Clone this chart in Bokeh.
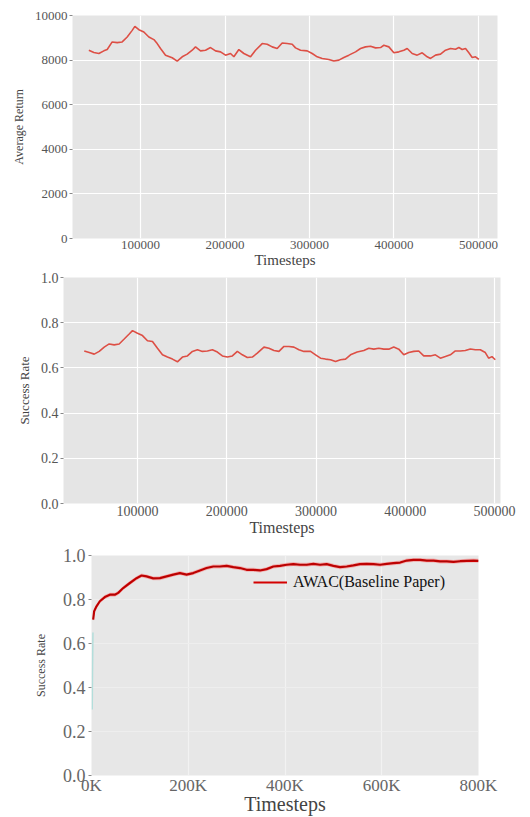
from bokeh.plotting import figure
from bokeh.models import Range1d, FixedTicker, Legend, LegendItem
from bokeh.embed import file_html
from bokeh.resources import INLINE

# ---------------- data ----------------
ret_x = [38860, 44780, 50700, 56620, 60560, 66480, 72400, 78320, 84240, 90150,
         93310, 98040, 103960, 109880, 115800, 119740, 123680, 129600, 137490, 143410,
         149330, 155240, 161160, 165110, 171020, 176940, 182860, 188780, 194690, 200610,
         206530, 210470, 216390, 222310, 230200, 236120, 244010, 249920, 255840, 261760,
         267680, 273600, 279510, 283460, 289380, 297270, 303180, 309100, 315020, 322910,
         328820, 334740, 340660, 346580, 354470, 360380, 366300, 372220, 378140, 384060,
         388000, 393920, 399840, 405760, 411670, 415620, 421540, 427460, 433370, 439290,
         443230, 449150, 455070, 460980, 466900, 472820, 476770, 480710, 484660, 488600,
         492550, 496490, 500430]
ret_y = [8444, 8341, 8296, 8415, 8474, 8815, 8785, 8815, 9037, 9333,
         9511, 9363, 9259, 9037, 8919, 8741, 8519, 8222, 8104, 7956,
         8148, 8267, 8444, 8593, 8415, 8444, 8563, 8415, 8370, 8222,
         8296, 8148, 8474, 8296, 8148, 8444, 8741, 8711, 8593, 8519,
         8770, 8741, 8711, 8548, 8444, 8415, 8296, 8148, 8074, 8030,
         7956, 8000, 8119, 8222, 8370, 8519, 8593, 8622, 8548, 8563,
         8667, 8593, 8326, 8370, 8444, 8519, 8296, 8222, 8326, 8148,
         8074, 8222, 8267, 8444, 8519, 8489, 8563, 8474, 8519, 8326,
         8119, 8148, 8030]

sr_x = [40340, 45930, 51520, 57120, 62710, 68300, 73900, 79490, 85090, 90680,
        94410, 100000, 105590, 111190, 116780, 122380, 127970, 133560, 139160, 144750,
        150340, 155940, 161530, 167120, 172720, 178310, 183900, 189500, 195090, 200680,
        206280, 211870, 217460, 223060, 228650, 234240, 241700, 247290, 252890, 258480,
        264070, 269670, 275260, 280850, 286450, 293910, 299500, 305090, 310690, 316280,
        321870, 327470, 333060, 338650, 346110, 353570, 359160, 364750, 370350, 375940,
        381530, 387130, 392720, 398310, 403910, 409500, 415090, 420690, 428150, 433740,
        439330, 444930, 450520, 456110, 461710, 467300, 472890, 478490, 484080, 489670,
        493400, 497130, 500860]
sr_y = [0.675, 0.668, 0.661, 0.673, 0.692, 0.706, 0.702, 0.706, 0.728, 0.750,
        0.765, 0.753, 0.743, 0.720, 0.717, 0.687, 0.658, 0.648, 0.639, 0.627,
        0.648, 0.653, 0.673, 0.680, 0.673, 0.675, 0.680, 0.670, 0.653, 0.648,
        0.653, 0.673, 0.658, 0.646, 0.648, 0.665, 0.692, 0.687, 0.677, 0.673,
        0.695, 0.695, 0.692, 0.680, 0.673, 0.673, 0.658, 0.643, 0.639, 0.636,
        0.628, 0.636, 0.639, 0.658, 0.670, 0.677, 0.687, 0.683, 0.687, 0.683,
        0.683, 0.692, 0.683, 0.658, 0.668, 0.673, 0.675, 0.653, 0.653, 0.658,
        0.643, 0.650, 0.658, 0.675, 0.675, 0.677, 0.684, 0.680, 0.680, 0.668,
        0.643, 0.650, 0.636]

awac_x = [3450, 5520, 10350, 17240, 27590, 37930, 48280, 55180, 65520, 79320,
          93110, 103450, 113800, 127590, 141390, 155180, 168970, 182770, 196560, 210360,
          224150, 237940, 251740, 265530, 279330, 293120, 306920, 320710, 334500, 348300,
          362090, 375890, 389680, 403470, 417270, 431060, 444860, 458650, 472440, 486240,
          500030, 513830, 527620, 541420, 555210, 569000, 582800, 596590, 610390, 624180,
          637980, 651770, 665560, 679360, 693150, 706950, 720740, 734530, 748330, 762120,
          775920, 789710, 800060]
awac_y = [0.709, 0.747, 0.769, 0.792, 0.811, 0.822, 0.822, 0.830, 0.852, 0.875,
          0.897, 0.909, 0.905, 0.896, 0.897, 0.905, 0.913, 0.920, 0.913, 0.920,
          0.932, 0.943, 0.950, 0.950, 0.953, 0.947, 0.943, 0.935, 0.935, 0.932,
          0.938, 0.950, 0.953, 0.958, 0.961, 0.958, 0.958, 0.962, 0.958, 0.961,
          0.953, 0.947, 0.950, 0.955, 0.961, 0.962, 0.961, 0.958, 0.962, 0.965,
          0.968, 0.977, 0.980, 0.980, 0.977, 0.977, 0.973, 0.973, 0.971, 0.974,
          0.976, 0.977, 0.976]
awac_spread = 0.009

faint_x = [1500, 2000, 2500, 3000]
faint_y = [0.30, 0.45, 0.55, 0.65]

ret_ticks = [0, 2000, 4000, 6000, 8000, 10000]
sr_ticks = [0.0, 0.2, 0.4, 0.6, 0.8, 1.0]
step_ticks = [100000, 200000, 300000, 400000, 500000]
awac_ticks = [0, 200000, 400000, 600000, 800000]
awac_tick_labels = ["0K", "200K", "400K", "600K", "800K"]

SERIF = "Liberation Serif"
W = 530


def style(p, tick_size, xlab_size, ylab_size, bg, text_col="#555555"):
    p.background_fill_color = bg
    p.border_fill_color = "white"
    p.outline_line_color = None
    for ax in (p.xaxis[0], p.yaxis[0]):
        ax.axis_line_color = None
        ax.major_label_text_font = SERIF
        ax.major_label_text_color = text_col
        ax.major_label_text_font_size = tick_size
        ax.axis_label_text_font = SERIF
        ax.axis_label_text_font_style = "normal"
        ax.axis_label_text_color = "#444444"
        ax.minor_tick_line_color = None
        ax.major_tick_in = 0
    p.xaxis[0].axis_label_text_font_size = xlab_size
    p.yaxis[0].axis_label_text_font_size = ylab_size
    p.xaxis[0].major_tick_out = 0
    p.yaxis[0].major_tick_out = 3
    p.yaxis[0].major_tick_line_color = "#888888"
    p.xaxis[0].major_label_standoff = 2
    p.xaxis[0].axis_label_standoff = 0
    p.yaxis[0].major_label_standoff = 2
    p.yaxis[0].axis_label_standoff = 6
    p.xgrid.grid_line_color = "white"
    p.ygrid.grid_line_color = "white"
    p.xgrid.grid_line_width = 1.2
    p.ygrid.grid_line_width = 1.2
    p.xgrid.minor_grid_line_color = None
    p.ygrid.minor_grid_line_color = None


# ---------- figure 1 ----------
p1 = figure(width=W, height=270, output_backend="svg", toolbar_location=None,
            x_range=Range1d(19500, 522500), y_range=Range1d(0, 10000),
            min_border_left=72, min_border_right=33, min_border_top=15, min_border_bottom=30)
p1.line(ret_x, ret_y, line_color="#dd4f45", line_width=1.6)
p1.xaxis.axis_label = "Timesteps"
p1.yaxis.axis_label = "Average Return"
p1.xaxis.ticker = FixedTicker(ticks=step_ticks)
p1.xaxis.major_label_overrides = {t: str(t) for t in step_ticks}
p1.yaxis.ticker = FixedTicker(ticks=ret_ticks)
p1.yaxis.major_label_overrides = {t: str(t) for t in ret_ticks}
style(p1, "13px", "15px", "12px", "#e5e5e5")

# ---------- figure 2 ----------
p2 = figure(width=W, height=268, output_backend="svg", toolbar_location=None,
            x_range=Range1d(17100, 506700), y_range=Range1d(0, 1.0),
            min_border_left=63, min_border_right=30, min_border_top=7, min_border_bottom=34)
p2.line(sr_x, sr_y, line_color="#dd4f45", line_width=1.6)
p2.xaxis.axis_label = "Timesteps"
p2.yaxis.axis_label = "Success Rate"
p2.xaxis.ticker = FixedTicker(ticks=step_ticks)
p2.xaxis.major_label_overrides = {t: str(t) for t in step_ticks}
p2.yaxis.ticker = FixedTicker(ticks=sr_ticks)
p2.yaxis.major_label_overrides = {t: f"{t:.1f}" for t in sr_ticks}
style(p2, "14px", "16px", "13px", "#e5e5e5")

# ---------- figure 3 ----------
p3 = figure(width=W, height=279, output_backend="svg", toolbar_location=None,
            x_range=Range1d(0, 800000), y_range=Range1d(0, 1.0),
            min_border_left=91, min_border_right=52, min_border_top=17, min_border_bottom=41)
p3.line(faint_x, faint_y, line_color="#7fd6cf", line_width=1.5, line_alpha=0.5)
p3.varea(x=awac_x, y1=[v - awac_spread for v in awac_y], y2=[v + awac_spread for v in awac_y],
         fill_color="#f08a8a", fill_alpha=0.55)
awac_line = p3.line(awac_x, awac_y, line_color="#d40000", line_width=2.2)
p3.line(awac_x, awac_y, line_color="#7a0d0d", line_width=0.8, line_alpha=0.6)
p3.xaxis.axis_label = "Timesteps"
p3.yaxis.axis_label = "Success Rate"
p3.xaxis.ticker = FixedTicker(ticks=awac_ticks)
p3.xaxis.major_label_overrides = dict(zip(awac_ticks, awac_tick_labels))
p3.yaxis.ticker = FixedTicker(ticks=sr_ticks)
p3.yaxis.major_label_overrides = {t: f"{t:.1f}" for t in sr_ticks}
style(p3, "18px", "20px", "12px", "#e7e7e7", text_col="#666666")
p3.xaxis.major_label_text_font_size = "17px"
p3.xgrid.grid_line_color = "#f2f2f2"
p3.ygrid.grid_line_color = "#eeeeee"
p3.xaxis.major_label_standoff = 0
p3.xaxis.axis_label_standoff = -5
p3.yaxis.major_label_standoff = 3
p3.yaxis.axis_label_standoff = 12

legend = Legend(items=[LegendItem(label="AWAC(Baseline Paper)", renderers=[awac_line])],
                location=(162, 183), background_fill_alpha=0, border_line_color=None,
                padding=0, margin=0, glyph_width=34, label_standoff=6,
                label_text_font=SERIF, label_text_font_size="16px", label_text_color="#111111")
p3.add_layout(legend)

open("out.html", "w").write(file_html([p1, p2, p3], INLINE))
